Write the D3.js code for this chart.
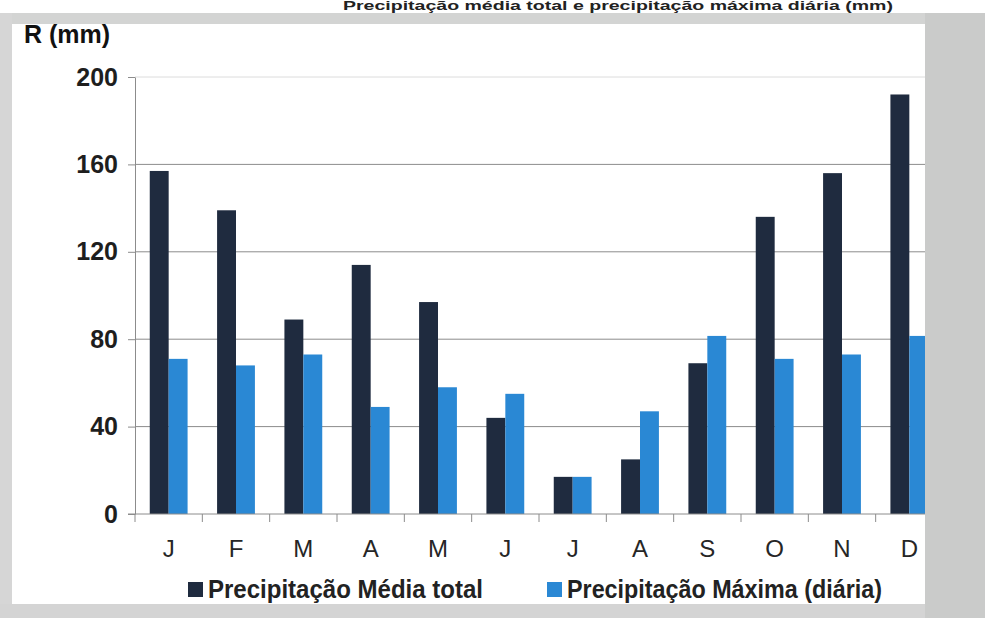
<!DOCTYPE html>
<html>
<head>
<meta charset="utf-8">
<script src="https://cdn.jsdelivr.net/npm/d3@7/dist/d3.min.js"></script>
<style>
  html, body { margin: 0; padding: 0; background: #ffffff; }
  svg { display: block; }
  text { font-family: "Liberation Sans", Arial, sans-serif; }
</style>
</head>
<body>
<svg id="chart" width="985" height="618"></svg>
<script>
// Monthly rainfall: mean total vs. maximum daily (mm)
const months = ["J", "F", "M", "A", "M", "J", "J", "A", "S", "O", "N", "D"];
const mediaTotal = [157, 139, 89, 114, 97, 44, 17, 25, 69, 136, 156, 192];
const maximaDiaria = [71, 68, 73, 49, 58, 55, 17, 47, 81.5, 71, 73, 81.5];
const seriesNames = ["Precipitação Média total", "Precipitação Máxima (diária)"];
const seriesColors = ["#1f2b3f", "#2a88d4"];
const yTicks = [0, 40, 80, 120, 160, 200];
const yTitle = "R (mm)";
const chartTitle = "Precipitação média total e precipitação máxima diária (mm)";

const svg = d3.select("#chart");

const plot = { left: 135, right: 943, top: 77, bottom: 514 };

const idx = d3.range(months.length);
const x = d3.scaleBand().domain(idx).range([plot.left, plot.right]).padding(0);
const x1 = d3.scaleBand().domain([0, 1]).range([0, x.bandwidth()]).paddingOuter(0.78).paddingInner(0);
const y = d3.scaleLinear().domain([0, 200]).range([plot.bottom, plot.top]);

// page background
svg.append("rect").attr("width", 985).attr("height", 618).attr("fill", "#ffffff");

// gridlines
svg.append("g")
  .selectAll("line")
  .data(yTicks.filter(d => d > 0))
  .join("line")
  .attr("x1", plot.left).attr("x2", plot.right)
  .attr("y1", d => y(d)).attr("y2", d => y(d))
  .attr("stroke", d => d === 200 ? "#dcdcdc" : "#8c8c8c")
  .attr("stroke-width", 1);

// bars
const groups = svg.append("g")
  .selectAll("g")
  .data(idx)
  .join("g")
  .attr("transform", i => `translate(${x(i)},0)`);

groups.selectAll("rect")
  .data(i => [mediaTotal[i], maximaDiaria[i]].map((v, s) => ({ v, s })))
  .join("rect")
  .attr("x", d => x1(d.s))
  .attr("width", x1.bandwidth())
  .attr("y", d => y(d.v))
  .attr("height", d => y(0) - y(d.v))
  .attr("fill", d => seriesColors[d.s]);

// y axis
const yAxis = svg.append("g")
  .attr("transform", `translate(${plot.left},0)`)
  .call(d3.axisLeft(y).tickValues(yTicks).tickSize(7).tickPadding(10).tickSizeOuter(0));
yAxis.select(".domain").attr("stroke", "#8c8c8c");
yAxis.selectAll(".tick line").attr("stroke", "#8c8c8c");
yAxis.selectAll(".tick text")
  .attr("font-size", 25).attr("font-weight", "bold").attr("fill", "#1e1e1e");

// x axis
svg.append("line")
  .attr("x1", plot.left - 7).attr("x2", plot.right)
  .attr("y1", y(0)).attr("y2", y(0))
  .attr("stroke", "#8c8c8c");
svg.append("g")
  .selectAll("line")
  .data(idx.concat([months.length]))
  .join("line")
  .attr("x1", i => i < months.length ? x(i) : plot.right)
  .attr("x2", i => i < months.length ? x(i) : plot.right)
  .attr("y1", y(0)).attr("y2", y(0) + 8)
  .attr("stroke", "#8c8c8c");

const xAxis = svg.append("g")
  .attr("transform", `translate(0,${plot.bottom})`)
  .call(d3.axisBottom(x).tickSize(0).tickPadding(26).tickFormat(i => months[i]));
xAxis.select(".domain").remove();
xAxis.selectAll(".tick text")
  .attr("font-size", 24).attr("fill", "#262626");

// y axis title
svg.append("text")
  .attr("x", 24).attr("y", 43)
  .attr("font-size", 25).attr("font-weight", "bold").attr("fill", "#111")
  .text(yTitle);

// legend
const legendItems = [
  { x: 188, w: 275 },
  { x: 547, w: 315 }
];
const legend = svg.append("g")
  .selectAll("g")
  .data(seriesNames)
  .join("g")
  .attr("transform", (d, i) => `translate(${legendItems[i].x},582)`);
legend.append("rect")
  .attr("width", 15).attr("height", 15)
  .attr("fill", (d, i) => seriesColors[i]);
legend.append("text")
  .attr("x", 20).attr("y", 16)
  .attr("font-size", 25).attr("font-weight", "bold").attr("fill", "#222")
  .attr("textLength", (d, i) => legendItems[i].w)
  .attr("lengthAdjust", "spacingAndGlyphs")
  .text(d => d);

// scanned page frame
const frame = svg.append("g");
frame.append("rect").attr("x", 0).attr("y", 13).attr("width", 985).attr("height", 11).attr("fill", "#d3d4d3");
frame.append("rect").attr("x", 0).attr("y", 13).attr("width", 12).attr("height", 605).attr("fill", "#d6d6d6");
frame.append("rect").attr("x", 0).attr("y", 604).attr("width", 985).attr("height", 14).attr("fill", "#d4d4d4");
frame.append("rect").attr("x", 925).attr("y", 13).attr("width", 60).attr("height", 605).attr("fill", "#cacbca");

// page heading above the frame
svg.append("text")
  .attr("x", 893).attr("y", 10)
  .attr("text-anchor", "end")
  .attr("font-size", 12).attr("font-weight", "bold").attr("fill", "#222")
  .attr("textLength", 550)
  .attr("lengthAdjust", "spacingAndGlyphs")
  .text(chartTitle);
</script>
</body>
</html>
